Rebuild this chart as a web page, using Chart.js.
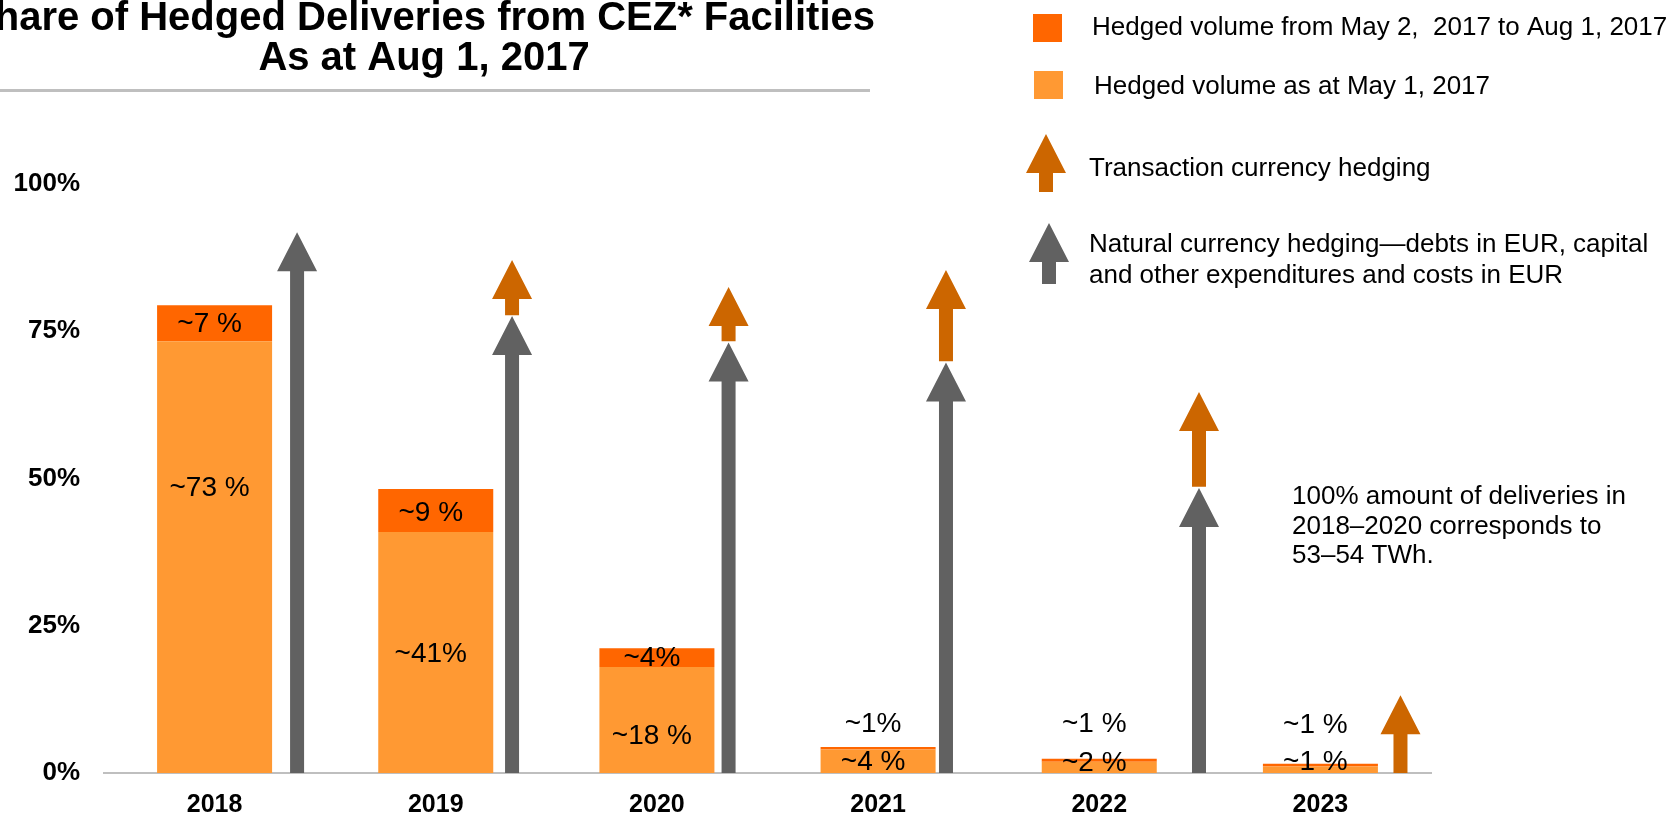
<!DOCTYPE html>
<html>
<head>
<meta charset="utf-8">
<title>Share of Hedged Deliveries from CEZ* Facilities</title>
<script src="https://cdn.jsdelivr.net/npm/chart.js@4.4.1/dist/chart.umd.min.js"></script>
<style>
    html, body { margin: 0; padding: 0; background: #fff; }
    canvas { display: block; }
</style>
</head>
<body>
<canvas id="myChart" width="1679" height="816"></canvas>
<script>
// DATOS DEL GRAFICO

const YEARS = ['2018', '2019', '2020', '2021', '2022', '2023'];
const Y_TICKS = [0, 25, 50, 75, 100];

// hedged volume (% of deliveries)
const HEDGED_MAY1 = [73.3, 40.9, 18.0, 4.0, 1.9, 1.1];
const HEDGED_MAY2_AUG1 = [6.1, 7.3, 3.2, 0.4, 0.5, 0.45];

// texts written on the bars
const LABELS_MAY1 = ['~73 %', '~41%', '~18 %', '~4 %', '~2 %', '~1 %'];
const LABELS_MAY2_AUG1 = ['~7 %', '~9 %', '~4%', '~1%', '~1 %', '~1 %'];

// arrows: natural hedging goes from 0 up to NATURAL_TO, transaction hedging from TRANS_FROM to TRANS_TO
const NATURAL_TO = [91.8, 77.6, 73.1, 69.7, 48.4, null];
const TRANS_FROM = [null, 77.7, 73.3, 69.9, 48.6, 0];
const TRANS_TO = [null, 87.1, 82.5, 85.4, 64.7, 13.2];

const LEGEND_TEXT = [
    'Hedged volume from May 2,  2017 to Aug 1, 2017',
    'Hedged volume as at May 1, 2017',
    'Transaction currency hedging',
    'Natural currency hedging\u2014debts in EUR, capital',
    'and other expenditures and costs in EUR'
];
const NOTE_TEXT = ['100% amount of deliveries in', '2018\u20132020 corresponds to', '53\u201354 TWh.'];
const TITLE_TEXT = ['Share of Hedged Deliveries from CEZ* Facilities', 'As at Aug 1, 2017'];

// layout only (not data)
const ARROW_SHIFT = [0.373, 0.345, 0.324, 0.307, 0.451, 0.362];
const LABEL_Y_MAY1 = [48.4, 20.2, 6.3, 1.9, 1.7, 1.9];
const LABEL_Y_MAY2_AUG1 = [76.1, 44.1, 19.5, 8.3, 8.3, 8.1];

const FONT = '"Liberation Sans", Arial, sans-serif';
const DARK_ORANGE = '#FF6600';
const LIGHT_ORANGE = '#FF9933';
const ARROW_ORANGE = '#CC6600';
const ARROW_GRAY = '#616161';

const drawArrow = (ctx, x, yTip, yBottom, color) => {
    const headH = 39, headW = 40, shaftW = 14;
    const yBase = yTip + headH;
    ctx.beginPath();
    ctx.moveTo(x, yTip);
    ctx.lineTo(x + headW / 2, yBase);
    ctx.lineTo(x + shaftW / 2, yBase);
    ctx.lineTo(x + shaftW / 2, yBottom);
    ctx.lineTo(x - shaftW / 2, yBottom);
    ctx.lineTo(x - shaftW / 2, yBase);
    ctx.lineTo(x - headW / 2, yBase);
    ctx.closePath();
    ctx.fillStyle = color;
    ctx.fill();
};

// arrows, bar labels, title, legend and note
const decorPlugin = {
    id: 'decor',
    afterDatasetsDraw(chart) {
        const { ctx, scales: { x, y } } = chart;
        const step = x.getPixelForValue(1) - x.getPixelForValue(0);
        ctx.save();
        YEARS.forEach((year, i) => {
            const cx = x.getPixelForValue(i) + ARROW_SHIFT[i] * step;
            if (NATURAL_TO[i] !== null) {
                drawArrow(ctx, cx, y.getPixelForValue(NATURAL_TO[i]), y.getPixelForValue(0), ARROW_GRAY);
            }
            if (TRANS_TO[i] !== null) {
                drawArrow(ctx, cx, y.getPixelForValue(TRANS_TO[i]), y.getPixelForValue(TRANS_FROM[i]), ARROW_ORANGE);
            }
        });

        ctx.fillStyle = '#000';
        ctx.font = '28px ' + FONT;
        ctx.textAlign = 'center';
        ctx.textBaseline = 'middle';
        YEARS.forEach((year, i) => {
            const cx = x.getPixelForValue(i) - 5;
            ctx.fillText(LABELS_MAY1[i], cx, y.getPixelForValue(LABEL_Y_MAY1[i]));
            ctx.fillText(LABELS_MAY2_AUG1[i], cx, y.getPixelForValue(LABEL_Y_MAY2_AUG1[i]));
        });
        ctx.restore();
    },
    afterDraw(chart) {
        const { ctx } = chart;
        ctx.save();

        // title (first line runs off the left edge, as in the slide)
        ctx.fillStyle = '#000';
        ctx.font = 'bold 40px ' + FONT;
        ctx.textBaseline = 'alphabetic';
        ctx.textAlign = 'right';
        ctx.fillText(TITLE_TEXT[0], 875, 30);
        ctx.textAlign = 'center';
        ctx.fillText(TITLE_TEXT[1], 424, 70);
        ctx.fillStyle = '#BFBFBF';
        ctx.fillRect(0, 89, 870, 3);

        // legend
        ctx.fillStyle = DARK_ORANGE;
        ctx.fillRect(1033, 14, 29, 28);
        ctx.fillStyle = LIGHT_ORANGE;
        ctx.fillRect(1034, 71, 29, 28);
        drawArrow(ctx, 1046, 134, 192, ARROW_ORANGE);
        drawArrow(ctx, 1049, 223, 284, ARROW_GRAY);

        ctx.fillStyle = '#000';
        ctx.font = '26px ' + FONT;
        ctx.textAlign = 'left';
        ctx.textBaseline = 'middle';
        ctx.fillText(LEGEND_TEXT[0], 1092, 28);
        ctx.fillText(LEGEND_TEXT[1], 1094, 87);
        ctx.fillText(LEGEND_TEXT[2], 1089, 169);
        ctx.fillText(LEGEND_TEXT[3], 1089, 245);
        ctx.fillText(LEGEND_TEXT[4], 1089, 276);

        // note
        NOTE_TEXT.forEach((line, i) => {
            ctx.fillText(line, 1292, 497 + i * 29.5);
        });
        ctx.restore();
    }
};

const chart = document.getElementById('myChart');

new Chart(chart, {
    type: 'bar',
    data: {
        labels: YEARS,
        datasets: [{
            label: LEGEND_TEXT[1],
            data: HEDGED_MAY1,
            backgroundColor: LIGHT_ORANGE,
            borderWidth: 0
        }, {
            label: LEGEND_TEXT[0],
            data: HEDGED_MAY2_AUG1,
            backgroundColor: DARK_ORANGE,
            borderWidth: 0
        }]
    },
    options: {
        responsive: false,
        animation: false,
        categoryPercentage: 1,
        barPercentage: 0.52,
        layout: {
            padding: { top: 184, right: 248, left: 0, bottom: 0 }
        },
        plugins: {
            legend: { display: false },
            tooltip: { enabled: false },
            title: { display: false }
        },
        scales: {
            x: {
                stacked: true,
                grid: { display: false, drawTicks: false },
                border: { display: true, color: '#BFBFBF', width: 2 },
                ticks: {
                    color: '#000',
                    padding: 17,
                    font: { family: FONT, size: 25, weight: 'bold' }
                },
                afterFit: (scale) => { scale.height = 43; }
            },
            y: {
                stacked: true,
                min: 0,
                max: 100,
                afterBuildTicks: (scale) => {
                    scale.ticks = Y_TICKS.map(v => ({ value: v }));
                },
                grid: { display: false, drawTicks: false },
                border: { display: false },
                ticks: {
                    color: '#000',
                    padding: 24,
                    font: { family: FONT, size: 26, weight: 'bold' },
                    callback: (value) => value + '%'
                },
                afterFit: (scale) => { scale.width = 104; }
            }
        }
    },
    plugins: [decorPlugin]
});
</script>
</body>
</html>
